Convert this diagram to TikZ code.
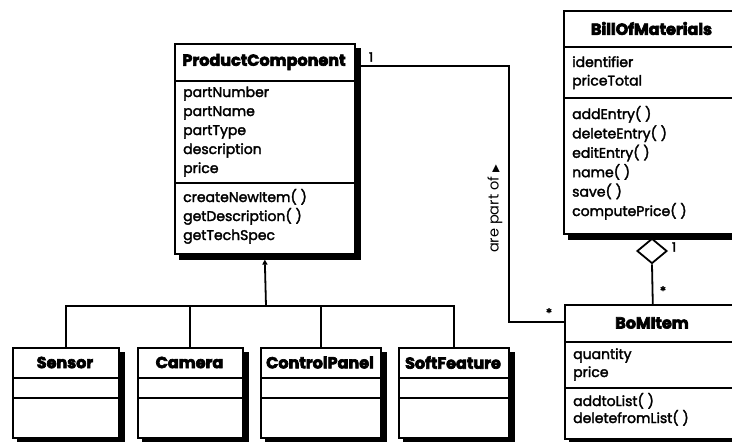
\documentclass[tikz,border=0pt]{standalone}
\usepackage{fontspec}
\setmainfont{Poppins}
% member text: regular Poppins face, emboldened a little
\newfontfamily\bodyfont{Poppins}[BoldFont={Poppins}, BoldFeatures={FakeBold=2.2}]
\newfontfamily\headfont{Poppins}[BoldFeatures={FakeBold=4}]
\newfontfamily\symfont{DejaVu Sans}
\usetikzlibrary{shapes.geometric,arrows.meta}
\pgfdeclarelayer{background}
\pgfsetlayers{background,main}

\begin{document}
\begin{tikzpicture}[x=1pt,y=-1pt,
  classbox/.style={draw, line width=1.6pt, fill=white, anchor=north west, inner sep=0pt},
  classtitle/.style={font=\headfont\bfseries\fontsize{16}{18}\selectfont, inner sep=0pt},
  member/.style={font=\bodyfont\bfseries\fontsize{14}{19}\selectfont, anchor=base west, inner sep=0pt},
  divider/.style={line width=1.3pt},
  link/.style={line width=1.8pt},
  mult/.style={font=\bodyfont\bfseries\fontsize{13}{13}\selectfont, inner sep=0pt},
  shadowfill/.style={fill=black},
]
\useasboundingbox (0,0) rectangle (732,442);
\clip (0,0) rectangle (732,442);

% ---------- ProductComponent ----------
\node[classbox, minimum width=180pt, minimum height=210pt] (pc) at (174,43) {};
\draw[divider] (pc.west |- 0,81) -- (pc.east |- 0,81);
\draw[divider] (pc.west |- 0,183) -- (pc.east |- 0,183);
\node[classtitle] (pc-title) at (264,62) {ProductComponent};
\foreach \t [count=\i] in {partNumber, partName, partType, description, price}
  \node[member] (pc-attr-\i) at (183,{97+19*(\i-1)}) {\t};
\foreach \t [count=\i] in {createNewItem( ), getDescription( ), getTechSpec}
  \node[member] (pc-op-\i) at (183,{202+19*(\i-1)}) {\t};

% ---------- BillOfMaterials ----------
\node[classbox, minimum width=177pt, minimum height=223pt] (bm) at (563,10) {};
\draw[divider] (bm.west |- 0,47) -- (bm.east |- 0,47);
\draw[divider] (bm.west |- 0,98) -- (bm.east |- 0,98);
\node[classtitle] (bm-title) at (651.5,28.5) {BillOfMaterials};
\foreach \t [count=\i] in {identifier, priceTotal}
  \node[member] (bm-attr-\i) at (572,{67+18.5*(\i-1)}) {\t};
\foreach \t [count=\i] in {addEntry( ), deleteEntry( ), editEntry( ), name( ), save( ), computePrice( )}
  \node[member] (bm-op-\i) at (572,{119+19.4*(\i-1)}) {\t};

% ---------- BoMItem ----------
\node[classbox, minimum width=176pt, minimum height=134pt] (bi) at (564,304) {};
\draw[divider] (bi.west |- 0,342) -- (bi.east |- 0,342);
\draw[divider] (bi.west |- 0,388) -- (bi.east |- 0,388);
\node[classtitle] (bi-title) at (652,323) {BoMItem};
\foreach \t [count=\i] in {quantity, price}
  \node[member] (bi-attr-\i) at (573,{359+18*(\i-1)}) {\t};
\foreach \t [count=\i] in {addtoList( ), deletefromList( )}
  \node[member] (bi-op-\i) at (573,{406+17*(\i-1)}) {\t};

% ---------- subclasses ----------
\foreach \nm/\lbl/\x/\w in {sensor/Sensor/12/106, camera/Camera/137/105,
    cpanel/ControlPanel/260/120, sfeat/SoftFeature/398/110} {
  \node[classbox, minimum width=\w pt, minimum height=90pt] (\nm) at (\x,347) {};
  \draw[divider] (\nm.west |- 0,378) -- (\nm.east |- 0,378);
  \draw[divider] (\nm.west |- 0,398) -- (\nm.east |- 0,398);
  \node[classtitle] (\nm-title) at ({\x+\w/2},362.5) {\lbl};
}

% ---------- drop shadows behind every class box ----------
\begin{pgfonlayer}{background}
  \foreach \b in {pc, bm, bi, sensor, camera, cpanel, sfeat}
    \fill[shadowfill] ([shift={(5,5)}]\b.north west) rectangle ([shift={(5,5)}]\b.south east);
\end{pgfonlayer}

% ---------- generalization ----------
\coordinate (bus) at (266,306);
\draw[link, -{Triangle[width=5pt,length=5pt]}] (bus) -- ([yshift=-5pt]pc.south);
\draw[link] (sensor.north) -- (sensor.north |- bus) -- (sfeat.north |- bus) -- (sfeat.north);
\draw[link] (camera.north) -- (camera.north |- bus);
\draw[link] (cpanel.north) -- (cpanel.north |- bus);

% ---------- association ProductComponent -- BoMItem ----------
\coordinate (jog) at (509,66);
\draw[link] (pc.east |- jog) -- (jog) |- (bi.west |- 0,322);
\node[mult] (m-pc) at (371,57) {1};
\node[mult] (m-bi) at (549,313) {*};
\node[rotate=90, font=\fontsize{14.5}{14.5}\selectfont, inner sep=0pt] (rel)
  at (495,209) {are part of {\symfont\fontsize{10}{10}\selectfont ▶}};

% ---------- aggregation BillOfMaterials <>-- BoMItem ----------
\node[diamond, draw, line width=1.8pt, fill=white, inner sep=0pt,
  minimum width=30pt, minimum height=25pt] (agg) at (652,251) {};
\draw[link] (agg.south) -- (bi.north);
\node[mult] (m-bm) at (674,247) {1};
\node[mult] (m-it) at (663,291) {*};
\end{tikzpicture}
\end{document}
